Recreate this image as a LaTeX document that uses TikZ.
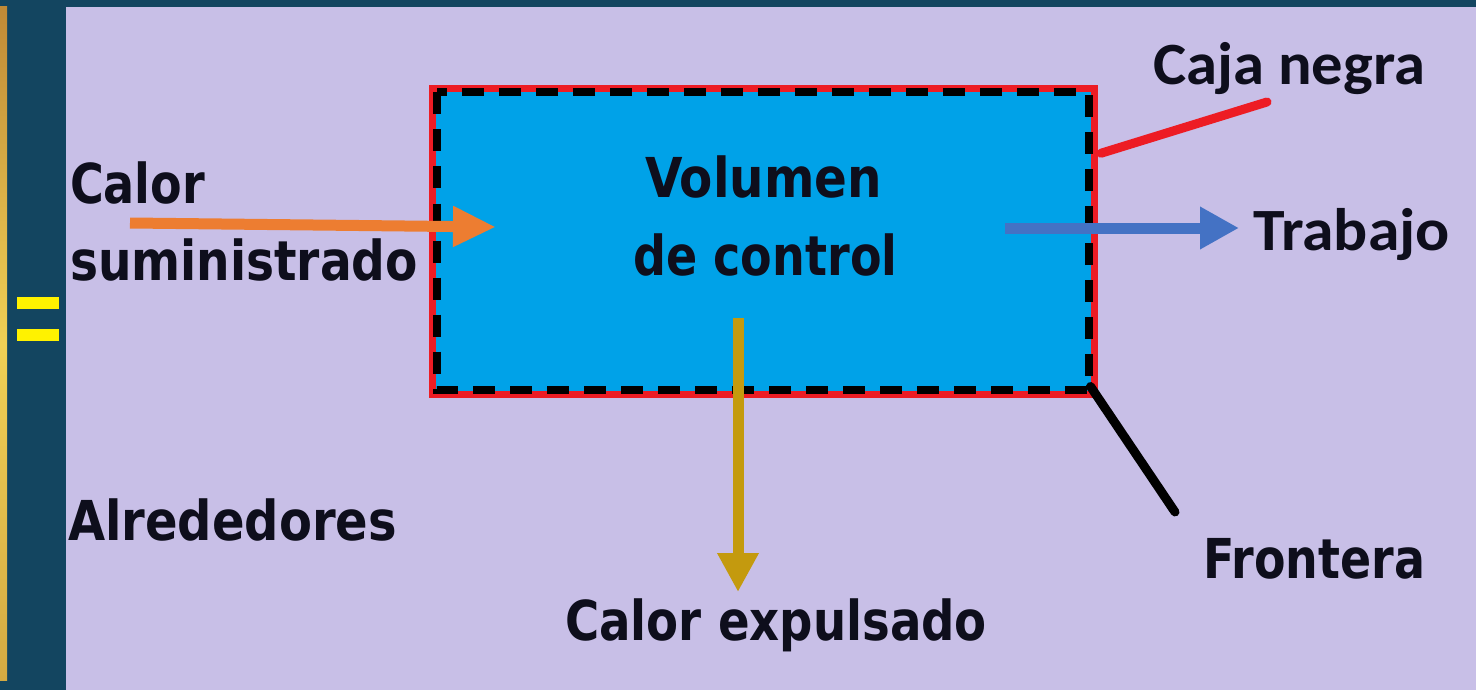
\documentclass[tikz,border=0pt]{standalone}
\usepackage{fontspec}
\usepackage{graphicx}
\setmainfont{DejaVu Sans}
\newfontfamily\calib{Carlito}
\usetikzlibrary{arrows.meta}
\definecolor{teal}{HTML}{134560}
\definecolor{lav}{HTML}{C8BFE7}
\definecolor{boxblue}{HTML}{00A2E8}
\definecolor{boxred}{HTML}{ED1C24}
\definecolor{arrorange}{HTML}{ED7D31}
\definecolor{arrblue}{HTML}{4472C4}
\definecolor{arrgold}{HTML}{C49A0E}
\definecolor{ink}{HTML}{0E0E1C}
\definecolor{goldA}{HTML}{C08A36}
\definecolor{goldB}{HTML}{F0D055}
\definecolor{goldC}{HTML}{D4AA42}
\newcommand{\fitw}[2]{\resizebox{#1}{\height}{#2}}
\tikzset{
  lbl/.style={inner sep=0pt, outer sep=0pt, anchor=base west, text=ink, font=\fontsize{55}{77}\selectfont\bfseries},
  lblc/.style={lbl, font=\fontsize{60}{77}\selectfont\calib\bfseries},
  flow/.style={line width=11pt},
  pointer/.style={line width=9pt, line cap=round},
}
\begin{document}
\begin{tikzpicture}[x=1pt,y=-1pt]
\useasboundingbox (0,0) rectangle (1476,690);
% background
\fill[teal] (0,0) rectangle (1476,690);
\shade[top color=goldA, bottom color=goldC, middle color=goldB] (0,7) rectangle (7,680);
\fill[lav] (66,7) rectangle (1476,690);
% equals sign
\fill[yellow] (17,297) rectangle (59,309);
\fill[yellow] (17,329) rectangle (59,341);
% control volume box
\node[draw=boxred, line width=7pt, fill=boxblue, minimum width=662pt, minimum height=305.5pt, inner sep=0pt] (box) at (763.5,241.25) {};
\draw[black, line width=8pt, dash pattern=on 22pt off 15pt]
  ([shift={(8,7.5)}]box.north west) rectangle ([shift={(-9.5,-8)}]box.south east);
% labels
\node[lbl] (vol) at (763,197) {\makebox[0pt]{\fitw{237pt}{Volumen}}};
\node[lbl] (ctl) at (765,275) {\makebox[0pt]{\fitw{264pt}{de control}}};
\node[lbl] (qin1) at (70,203) {\fitw{135pt}{Calor}};
\node[lbl] (qin2) at (70,280) {\fitw{348pt}{suministrado}};
\node[lbl] (alr) at (68,540) {\fitw{329pt}{Alrededores}};
\node[lbl] (fro) at (1203,578) {\fitw{222pt}{Frontera}};
\node[lbl] (qout) at (565,640) {\fitw{422pt}{Calor expulsado}};
\node[lblc] (trab) at (1253,250) {\fitw{197pt}{Trabajo}};
\node[lblc] (caja) at (1153,85) {\fitw{272pt}{Caja negra}};
% connector coordinates
\coordinate (qinS) at (130,223);
\coordinate (qinE) at (496,227);
\coordinate (wS) at (1005,228);
\coordinate (wE) at (1239,228);
\coordinate (qoS) at (738,318);
\coordinate (qoE) at (738,592);
\coordinate (cajaE) at (1267,102);
\coordinate (froE) at (1175,512);
% flows
\draw[flow, arrorange, -{Triangle[length=43pt,width=38pt]}] (qinS) -- (qinE);
\draw[flow, arrblue, -{Triangle[length=39pt,width=40pt]}] (wS) -- (wE);
\draw[flow, arrgold, -{Triangle[length=39pt,width=39pt]}] (qoS) -- (qoE);
% pointers
\draw[pointer, boxred] ([shift={(3,-88)}]box.east) -- (cajaE);
\draw[pointer, black] ([shift={(-7.5,-11)}]box.south east) -- (froE);
\end{tikzpicture}
\end{document}
